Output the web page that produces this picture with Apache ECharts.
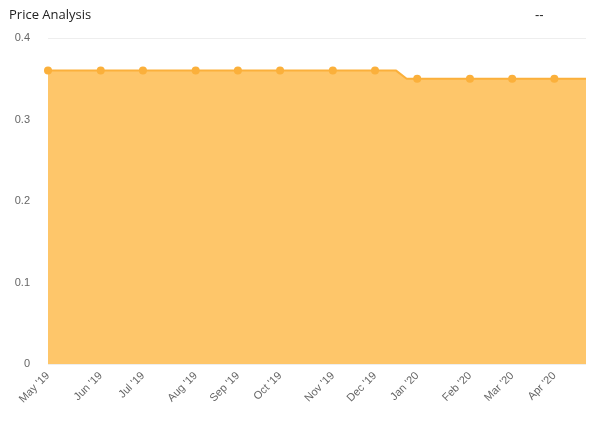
<!DOCTYPE html>
<html><head><meta charset="utf-8">
<script src="https://cdn.jsdelivr.net/npm/echarts@6/dist/echarts.min.js"></script>
<style>html,body{margin:0;padding:0;background:#fff}#chart{width:608px;height:426px}</style>
</head><body><div id="chart"></div>
<script>
// weekly price points, May '19 – Apr '20
const prices = [
  0.36,0.36,0.36,0.36,0.36,0.36,0.36,0.36,0.36,0.36,0.36,0.36,0.36,0.36,0.36,0.36,0.36,
  0.36,0.36,0.36,0.36,0.36,0.36,0.36,0.36,0.36,0.36,0.36,0.36,0.36,0.36,0.36,0.36,0.36,
  0.35,0.35,0.35,0.35,0.35,0.35,0.35,0.35,0.35,0.35,0.35,0.35,0.35,0.35,0.35,0.35,0.35,0.35
];
const monthNames = ['Jan','Feb','Mar','Apr','May','Jun','Jul','Aug','Sep','Oct','Nov','Dec'];
const weeks = [];
const start = new Date(2019, 4, 1);
for (let i = 0; i < prices.length; i++) {
  const d = new Date(start.getTime() + i * 7 * 86400000);
  weeks.push(monthNames[d.getMonth()] + " '" + String(d.getFullYear()).slice(2) + '|' + d.getDate());
}
const chart = echarts.init(document.getElementById('chart'));
chart.setOption({
  animation: false,
  title: [
    {text: 'Price Analysis', left: 4, top: 4, textStyle: {fontSize: 13, fontWeight: 'normal', color: '#222', fontFamily: 'Open Sans'}},
    {text: '--', left: 530, top: 4, textStyle: {fontSize: 13, fontWeight: 'normal', color: '#222'}}
  ],
  grid: {left: 48, right: 22, top: 38, bottom: 62},
  xAxis: {
    type: 'category', data: weeks, boundaryGap: false,
    axisLine: {show: false}, axisTick: {show: false},
    axisLabel: {
      rotate: 45, color: '#666', fontSize: 11, margin: 10,
      interval: (i, v) => Number(v.split('|')[1]) <= 7,
      formatter: v => v.split('|')[0]
    }
  },
  yAxis: {
    type: 'value', min: 0, max: 0.4, interval: 0.1,
    axisLabel: {color: '#666', fontSize: 11, margin: 18},
    splitLine: {lineStyle: {color: '#eee'}}
  },
  series: [{
    type: 'line', data: prices, step: false,
    symbol: 'circle', symbolSize: 8,
    itemStyle: {color: '#fbb03b'},
    lineStyle: {color: '#fbb03b', width: 2},
    areaStyle: {color: '#fec66a', opacity: 1}
  }]
});
</script></body></html>
